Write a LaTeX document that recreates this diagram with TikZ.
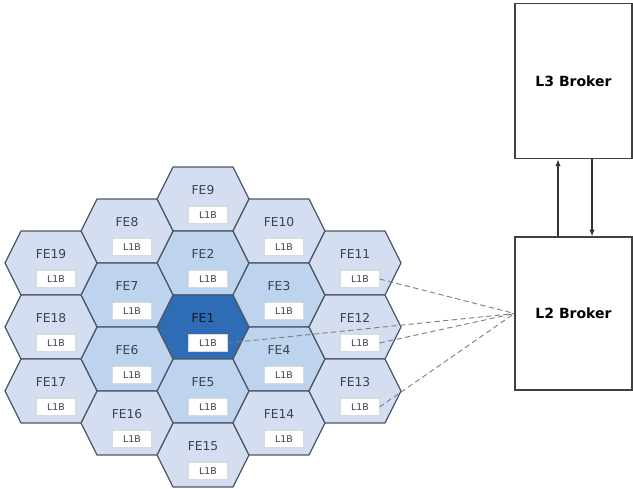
\documentclass[tikz,border=0pt]{standalone}
\usepackage{fontspec}
\setmainfont{DejaVu Sans}
\usepackage{xcolor}
\usepackage{tikz}
\usetikzlibrary{arrows.meta,positioning}
\definecolor{outerfe}{RGB}{212,222,240}
\definecolor{innerfe}{RGB}{190,211,238}
\definecolor{centrefe}{RGB}{46,108,181}
\definecolor{hexline}{RGB}{74,88,104}
\definecolor{fetext}{RGB}{55,66,82}

\begin{document}
\begin{tikzpicture}[
    x=0.75pt, y=-0.75pt,
    hexcell/.style={draw=hexline, line width=0.9pt, line join=round},
    felabel/.style={font=\fontsize{9.2}{10}\selectfont, text=fetext, inner sep=0pt},
    l1b/.style={fill=white, draw=white!85!black, line width=0.3pt, minimum width=29pt,
                minimum height=12.5pt, inner sep=0pt, font=\fontsize{7}{8}\selectfont, text=fetext},
    broker/.style={rectangle, draw=black!75, line width=0.9pt, fill=white,
                   minimum width=87.75pt, align=center, font=\bfseries\fontsize{10.5}{12}\selectfont},
    link/.style={dashed, dash pattern=on 4pt off 2.5pt, draw=black!50, line width=0.7pt},
    arrow/.style={-{Latex[length=5pt,width=4pt]}, line width=0.9pt, color=black!80}
  ]
    \useasboundingbox (0,0) rectangle (633,489);

    % the cells: name / x / y / fill
    \foreach \name/\cx/\cy/\ring in {
        9/203/199/outerfe, 2/203/263/innerfe, 1/203/327/centrefe, 5/203/391/innerfe, 15/203/455/outerfe,
        10/279/231/outerfe, 3/279/295/innerfe, 4/279/359/innerfe, 14/279/423/outerfe,
        8/127/231/outerfe, 7/127/295/innerfe, 6/127/359/innerfe, 16/127/423/outerfe,
        11/355/263/outerfe, 12/355/327/outerfe, 13/355/391/outerfe,
        19/51/263/outerfe, 18/51/327/outerfe, 17/51/391/outerfe}
    {
      \draw[hexcell, fill=\ring] ({\cx-46},\cy) -- ({\cx-30},{\cy-32}) -- ({\cx+30},{\cy-32})
          -- ({\cx+46},\cy) -- ({\cx+30},{\cy+32}) -- ({\cx-30},{\cy+32}) -- cycle;
      \node[felabel] (fe\name) at (\cx,{\cy-9}) {FE\name};
      \node[l1b] (l1b\name) at ({\cx+5},{\cy+16}) {L1B};
    }
    \node[felabel, text=black!70!centrefe] at (fe1) {FE1};

    % brokers
    \node[broker, minimum height=114.75pt] (l2) at (573.5,313.5) {L2 Broker};
    \node[broker, minimum height=116.25pt, above=57.75pt of l2] (l3) {L3 Broker};

    \draw[arrow] ([xshift=-11.6pt]l2.north) -- ([xshift=-11.6pt]l3.south);
    \draw[arrow] ([xshift=13.9pt]l3.south) -- ([xshift=13.9pt]l2.north);

    % L1B to L2 links
    \foreach \name in {11,1,12,13}
      \draw[link] (l1b\name.east) -- (l2.west);
  \end{tikzpicture}
\end{document}
